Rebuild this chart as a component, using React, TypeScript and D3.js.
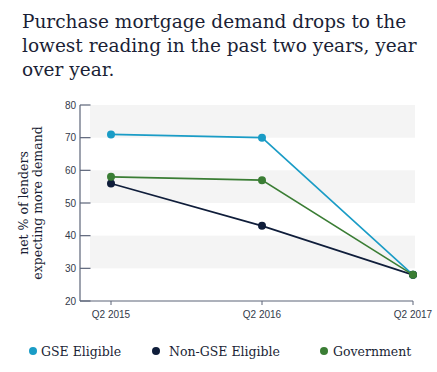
import React from "react";
import * as d3 from "d3";

const categories = ["Q2 2015", "Q2 2016", "Q2 2017"];
const gseEligible = [71, 70, 28];
const nonGseEligible = [56, 43, 28];
const government = [58, 57, 28];
const yTicks = [20, 30, 40, 50, 60, 70, 80];
const bands = [[70, 80], [50, 60], [30, 40]];
const titleLines = [
  "Purchase mortgage demand drops to the",
  "lowest reading in the past two years, year",
  "over year.",
];

const seriesList = [
  { name: "GSE Eligible", values: gseEligible, color: "#1a9cc6" },
  { name: "Non-GSE Eligible", values: nonGseEligible, color: "#0f1d3a" },
  { name: "Government", values: government, color: "#3a7d34" },
];

export default function App() {
  const W = 437, H = 372;
  const y = d3.scaleLinear().domain([20, 80]).range([301, 105]);
  const x = d3.scalePoint<string>().domain(categories).range([111, 413]);
  const line = d3
    .line<number>()
    .x((_, i) => x(categories[i]) as number)
    .y((d) => y(d));
  const serif = "'DejaVu Serif', serif";
  const sans = "'Liberation Sans', Arial, sans-serif";
  const axisColor = "#5c6478";
  const legendPos = [
    { cx: 33, tx: 41 },
    { cx: 156, tx: 169 },
    { cx: 324, tx: 333 },
  ];
  return (
    <svg width={W} height={H} style={{ position: "absolute", left: 0, top: 0, background: "#fff" }}>
      {titleLines.map((t, i) => (
        <text key={i} x={22} y={28 + i * 24} fontFamily={serif} fontSize={18.5} fill="#1b1f36">
          {t}
        </text>
      ))}
      {bands.map(([a, b], i) => (
        <rect key={i} x={90} y={y(b)} width={325} height={y(a) - y(b)} fill="#f4f4f4" />
      ))}
      {/* y axis */}
      <line x1={80} x2={80} y1={105} y2={301} stroke={axisColor} strokeWidth={1.2} />
      {yTicks.map((t) => (
        <g key={t}>
          <line x1={80} x2={90.5} y1={y(t)} y2={y(t)} stroke={axisColor} strokeWidth={1.2} />
          <text x={76} y={y(t)} dy="0.35em" textAnchor="end" fontFamily={sans} fontSize={10} fill="#333a4a">
            {t}
          </text>
        </g>
      ))}
      {/* x axis */}
      <line x1={80} x2={413} y1={301} y2={301} stroke={axisColor} strokeWidth={1.2} />
      {categories.map((c) => (
        <g key={c}>
          <line x1={x(c)} x2={x(c)} y1={301} y2={305} stroke={axisColor} strokeWidth={1} />
          <text x={x(c)} y={318} textAnchor="middle" fontFamily={sans} fontSize={10} fill="#333a4a">
            {c}
          </text>
        </g>
      ))}
      {/* y title */}
      <g transform="translate(31,203) rotate(-90)">
        <text x={0} y={-3} textAnchor="middle" fontFamily={serif} fontSize={12.5} fill="#1b1f36">
          net % of lenders
        </text>
        <text x={0} y={11} textAnchor="middle" fontFamily={serif} fontSize={12.5} fill="#1b1f36">
          expecting more demand
        </text>
      </g>
      {seriesList.map((s) => (
        <g key={s.name}>
          <path d={line(s.values) || ""} fill="none" stroke={s.color} strokeWidth={1.6} />
          {s.values.map((v, i) => (
            <circle key={i} cx={x(categories[i])} cy={y(v)} r={4} fill={s.color} />
          ))}
        </g>
      ))}
      {/* legend */}
      {seriesList.map((s, i) => (
        <g key={s.name}>
          <circle cx={legendPos[i].cx} cy={351} r={4} fill={s.color} />
          <text x={legendPos[i].tx} y={355.5} fontFamily={serif} fontSize={12.5} fill="#1b1f36">
            {s.name}
          </text>
        </g>
      ))}
    </svg>
  );
}
